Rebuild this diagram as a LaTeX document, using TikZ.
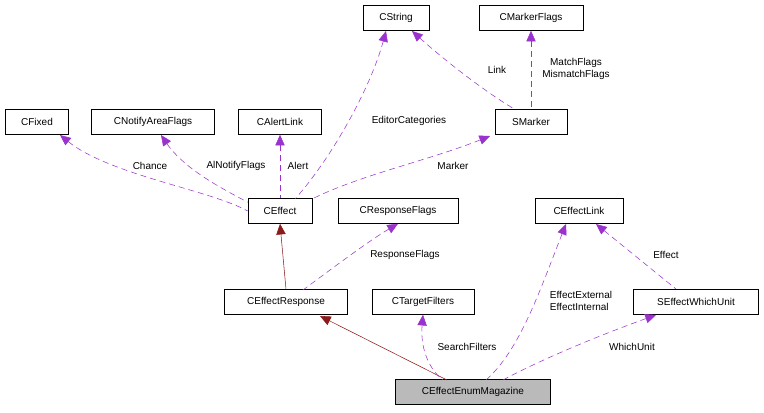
\documentclass[tikz,border=0pt]{standalone}
\usepackage{fontspec}
\setmainfont{Liberation Sans}
\usetikzlibrary{arrows.meta}
\definecolor{usec}{HTML}{9A32CD}
\definecolor{inh}{HTML}{8B1A1A}
\begin{document}
\begin{tikzpicture}[x=0.75pt,y=-0.75pt,
  every node/.style={font=\fontsize{7.5}{9}\selectfont},
  box/.style={draw=black,fill=white,minimum height=25*0.75pt,inner xsep=3pt,inner ysep=0pt},
  use/.style={draw=usec,dashed,dash pattern=on 4.5pt off 3pt,{Triangle[length=8pt,width=7pt]}-},
  inhe/.style={draw=inh,{Triangle[length=8pt,width=7pt]}-},
  lab/.style={align=left,inner sep=1pt}]
\useasboundingbox (0,0) rectangle (764,412);
\node[box,minimum width=66*0.75pt] (cstring) at (396,18) {CString};
\node[box,minimum width=104*0.75pt] (cmarker) at (531,18) {CMarkerFlags};
\node[box,minimum width=63*0.75pt] (cfixed) at (37,122) {CFixed};
\node[box,minimum width=123*0.75pt] (cnotify) at (153,122) {CNotifyAreaFlags};
\node[box,minimum width=83*0.75pt] (calert) at (280,122) {CAlertLink};
\node[box,minimum width=72*0.75pt] (smarker) at (531,122) {SMarker};
\node[box,minimum width=64*0.75pt] (ceffect) at (280,211) {CEffect};
\node[box,minimum width=120*0.75pt] (cresp) at (398,211) {CResponseFlags};
\node[box,minimum width=88*0.75pt] (clink) at (579,211) {CEffectLink};
\node[box,minimum width=123*0.75pt] (ceresp) at (286,302) {CEffectResponse};
\node[box,minimum width=102*0.75pt] (ctarget) at (423,302) {CTargetFilters};
\node[box,minimum width=125*0.75pt] (swhich) at (696,302) {SEffectWhichUnit};
\node[box,fill=black!27,minimum width=155*0.75pt] (cmag) at (473,392) {CEffectEnumMagazine};

\draw[use] (60,135) .. controls (110,175) and (210,190) .. (ceffect.west);
\draw[use] (161,135) .. controls (185,170) and (225,190) .. ([yshift=-3pt]ceffect.north west);
\draw[use] (calert.south) -- (ceffect.north);
\draw[use] (386,31) .. controls (370,90) and (330,160) .. (295,199);
\draw[use] (490,136) .. controls (430,160) and (360,175) .. (312,199);
\draw[use] (412,31) .. controls (450,65) and (490,95) .. (516,110);
\draw[use] (cmarker.south) -- (smarker.north);
\draw[inhe] (ceffect.south) -- (ceresp.north);
\draw[use] (cresp.south) .. controls (370,240) and (330,270) .. (303,290);
\draw[inhe] (320,316) -- (447,380);
\draw[use] (ctarget.south) .. controls (420,350) and (430,370) .. (443,380);
\draw[use] (566,224) .. controls (540,290) and (520,350) .. (486,380);
\draw[use] (656,315) .. controls (600,335) and (540,360) .. (503,380);
\draw[use] (596,224) -- (676,289);

\node[lab] at (150,166) {Chance};
\node[lab] at (236,166) {AlNotifyFlags};
\node[lab] at (298,166) {Alert};
\node[lab] at (409,121) {EditorCategories};
\node[lab] at (453,166) {Marker};
\node[lab] at (497,70) {Link};
\node[lab,align=center] at (576,69) {MatchFlags\\MismatchFlags};
\node[lab] at (405,255) {ResponseFlags};
\node[lab] at (581,301) {EffectExternal\\EffectInternal};
\node[lab] at (666,255) {Effect};
\node[lab] at (467,347) {SearchFilters};
\node[lab] at (632,347) {WhichUnit};
\end{tikzpicture}
\end{document}
